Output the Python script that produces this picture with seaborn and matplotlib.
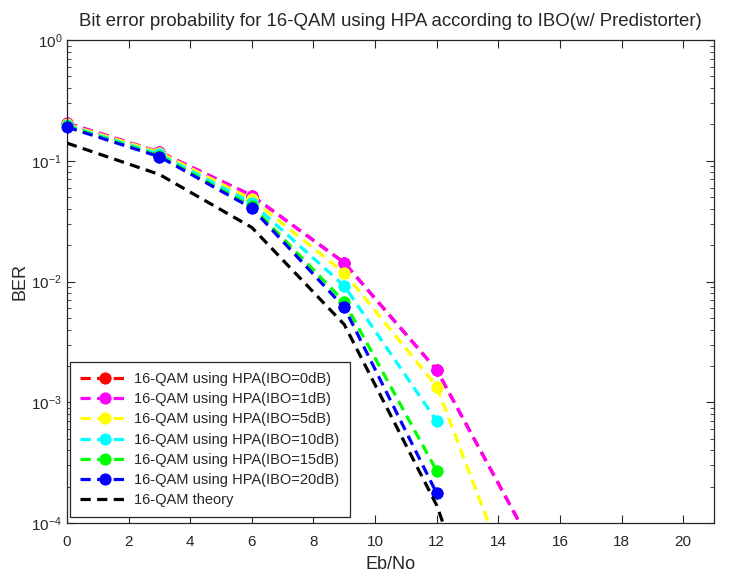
import numpy as np
import pandas as pd
import matplotlib
matplotlib.use("Agg")
import matplotlib.pyplot as plt
import seaborn as sns

ebno = [0, 3, 6, 9, 12, 15]
ber_ibo0 = [0.205, 0.118, 0.0515, 0.0143, 1.85e-3, 7.2e-5]
ber_ibo1 = [0.205, 0.118, 0.0515, 0.0143, 1.85e-3, 7.2e-5]
ber_ibo5 = [0.200, 0.117, 0.048, 0.0118, 1.35e-3, 1.3e-5]
ber_ibo10 = [0.196, 0.113, 0.0447, 0.0092, 7.0e-4, np.nan]
ber_ibo15 = [0.193, 0.110, 0.042, 0.0068, 2.7e-4, np.nan]
ber_ibo20 = [0.190, 0.108, 0.0405, 0.0061, 1.76e-4, np.nan]
ber_theory = [0.140, 0.077, 0.028, 0.0044, 1.4e-4, 1e-6]

labels = ["16-QAM using HPA(IBO=0dB)", "16-QAM using HPA(IBO=1dB)",
          "16-QAM using HPA(IBO=5dB)", "16-QAM using HPA(IBO=10dB)",
          "16-QAM using HPA(IBO=15dB)", "16-QAM using HPA(IBO=20dB)"]
series = [ber_ibo0, ber_ibo1, ber_ibo5, ber_ibo10, ber_ibo15, ber_ibo20]
colors = ["#ff0000", "#ff00ff", "#ffff00", "#00ffff", "#00ff00", "#0000ff"]

sns.set_style("ticks")
plt.rcParams["font.family"] = ["Liberation Sans", "DejaVu Sans"]
plt.rcParams["mathtext.fontset"] = "custom"
plt.rcParams["mathtext.rm"] = "Liberation Sans"
plt.rcParams["mathtext.it"] = "Liberation Sans:italic"
plt.rcParams["mathtext.bf"] = "Liberation Sans:bold"

fig = plt.figure(figsize=(7.42, 5.83), dpi=100)
ax = fig.add_axes([67/742, 1-523/583, (714-67)/742, (523-40)/583])

YMIN, YMAX = 1e-4, 1
lw = 2.3
dash = (3.2, 2.0)
for i, (y, lab, c) in enumerate(zip(series, labels, colors)):
    z = 2 + 0.1 * i
    df = pd.DataFrame({"x": ebno, "y": y}).dropna()
    sns.lineplot(data=df, x="x", y="y", ax=ax, color=c, label=lab,
                 marker="o", markersize=8, markeredgecolor=c,
                 markerfacecolor=c, linewidth=lw, linestyle="--", zorder=z)
    ax.lines[-1].set_dashes(dash)
    # unclipped markers for in-range points (MATLAB draws markers over the box)
    dfm = df[(df["y"] >= YMIN) & (df["y"] <= YMAX)]
    sns.scatterplot(data=dfm, x="x", y="y", ax=ax, color=c, s=64,
                    edgecolor=c, linewidth=0.5, zorder=z + 0.05,
                    clip_on=False, legend=False)

dft = pd.DataFrame({"x": ebno, "y": ber_theory})
sns.lineplot(data=dft, x="x", y="y", ax=ax, color="black",
             label="16-QAM theory", linewidth=lw, linestyle="--", zorder=2.8)
ax.lines[-1].set_dashes(dash)

ax.set_yscale("log")
ax.set_xlim(0, 21)
ax.set_ylim(YMIN, YMAX)
ax.set_xticks(np.arange(0, 21, 2))
ax.tick_params(which="both", direction="in", top=True, right=True,
               labelsize=11, colors="#262626")
ax.tick_params(which="major", length=6, width=0.8)
ax.tick_params(which="minor", length=3, width=0.6)
ax.tick_params(axis="x", which="both", pad=9)
ax.tick_params(axis="x", which="minor", bottom=False, top=False)
for s in ax.spines.values():
    s.set_color("#262626")
    s.set_linewidth(0.9)

ax.set_xlabel("Eb/No", fontsize=13, color="#262626", labelpad=5)
ax.set_ylabel("BER", fontsize=13, color="#262626", labelpad=2)
ax.set_title("Bit error probability for 16-QAM using HPA according to IBO(w/ Predistorter)",
             fontsize=13.4, pad=10)

leg = ax.legend(loc="lower left", bbox_to_anchor=(0.004, 0.012),
                borderaxespad=0, frameon=True, fancybox=False,
                edgecolor="#262626", framealpha=1, fontsize=10.5,
                handlelength=3.4, handletextpad=0.35, labelspacing=0.42,
                borderpad=0.7)
leg.get_frame().set_linewidth(0.9)
leg.set_zorder(5)

fig.savefig("out.png", dpi=100)
